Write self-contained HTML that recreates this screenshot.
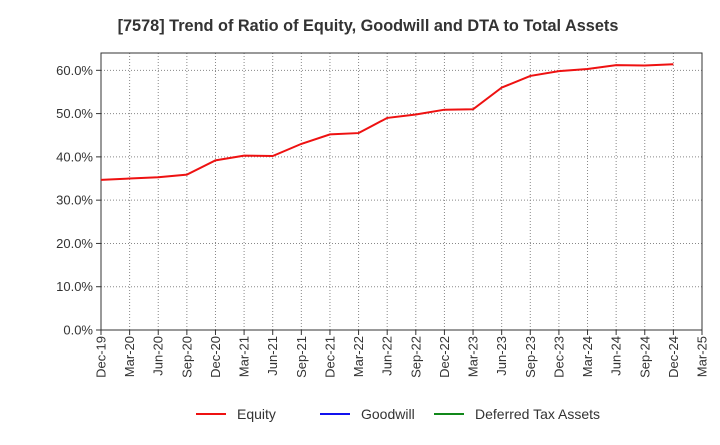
<!DOCTYPE html>
<html><head><meta charset="utf-8">
<style>
body{margin:0;background:#fff;font-family:"Liberation Sans",sans-serif;}
svg text{font-family:"Liberation Sans",sans-serif;}
</style></head>
<body>
<svg id="c" width="720" height="440" xmlns="http://www.w3.org/2000/svg">
<text x="368" y="31" text-anchor="middle" font-size="16.3" font-weight="bold" fill="#333">[7578]  Trend of Ratio of Equity, Goodwill and DTA to Total Assets</text>
<g id="grid"></g>
<g id="axes"></g>
<g id="series"></g>
<g>
<line x1="196" y1="414" x2="226" y2="414" stroke="#ee1111" stroke-width="2"/>
<text x="237" y="419" font-size="14" fill="#333">Equity</text>
<line x1="320" y1="414" x2="350" y2="414" stroke="#1111ee" stroke-width="2"/>
<text x="361" y="419" font-size="14" fill="#333">Goodwill</text>
<line x1="434" y1="414" x2="464" y2="414" stroke="#11881a" stroke-width="2"/>
<text x="475" y="419" font-size="14" fill="#333">Deferred Tax Assets</text>
</g>
</svg>
<script>
const categories=["Dec-19","Mar-20","Jun-20","Sep-20","Dec-20","Mar-21","Jun-21","Sep-21","Dec-21","Mar-22","Jun-22","Sep-22","Dec-22","Mar-23","Jun-23","Sep-23","Dec-23","Mar-24","Jun-24","Sep-24","Dec-24","Mar-25"];
const equity=[34.7,35.0,35.3,35.9,39.2,40.3,40.2,43.0,45.2,45.5,49.0,49.8,50.9,51.0,56.0,58.7,59.8,60.3,61.2,61.1,61.4];
const yTicks=[0,10,20,30,40,50,60];
const yTickLabels=["0.0%","10.0%","20.0%","30.0%","40.0%","50.0%","60.0%"];
const L=101,R=702,T=53,B=330,YMAX=64;
const sx=i=>L+i*(R-L)/(categories.length-1);
const sy=v=>B-v/YMAX*(B-T);
const NS="http://www.w3.org/2000/svg";
function mk(tag,attrs,parent){const e=document.createElementNS(NS,tag);for(const k in attrs)e.setAttribute(k,attrs[k]);parent.appendChild(e);return e;}
const grid=document.getElementById('grid'),axes=document.getElementById('axes'),series=document.getElementById('series');
mk('rect',{x:L,y:T,width:R-L,height:B-T,fill:'none',stroke:'#333','stroke-width':1},axes);
categories.forEach((c,i)=>{
  const x=sx(i);
  const g=mk('line',{x1:x,y1:T,x2:x,y2:B,stroke:'#888','stroke-width':1,'stroke-dasharray':'1,2'},grid);
  
  
  mk('line',{x1:x,y1:B,x2:x,y2:B+5,stroke:'#333'},axes);
  const t=mk('text',{x:0,y:0,'font-size':13,fill:'#333','text-anchor':'end',transform:`translate(${x+4.5},${B+6}) rotate(-90)`},axes);
  t.textContent=c;
  
  
});
yTicks.forEach((v,i)=>{
  const y=sy(v);
  const g=mk('line',{x1:L,y1:y,x2:R,y2:y,stroke:'#888','stroke-width':1,'stroke-dasharray':'1,2'},grid);
  
  
  mk('line',{x1:L-5,y1:y,x2:L,y2:y,stroke:'#333'},axes);
  const t=mk('text',{x:L-8,y:y+4.5,'font-size':13,fill:'#333','text-anchor':'end'},axes);
  t.textContent=yTickLabels[i];
  
  
});
const p=mk('polyline',{points:equity.map((v,i)=>sx(i)+','+sy(v)).join(' '),fill:'none',stroke:'#ee1111','stroke-width':2},series);


</script>
</body></html>
